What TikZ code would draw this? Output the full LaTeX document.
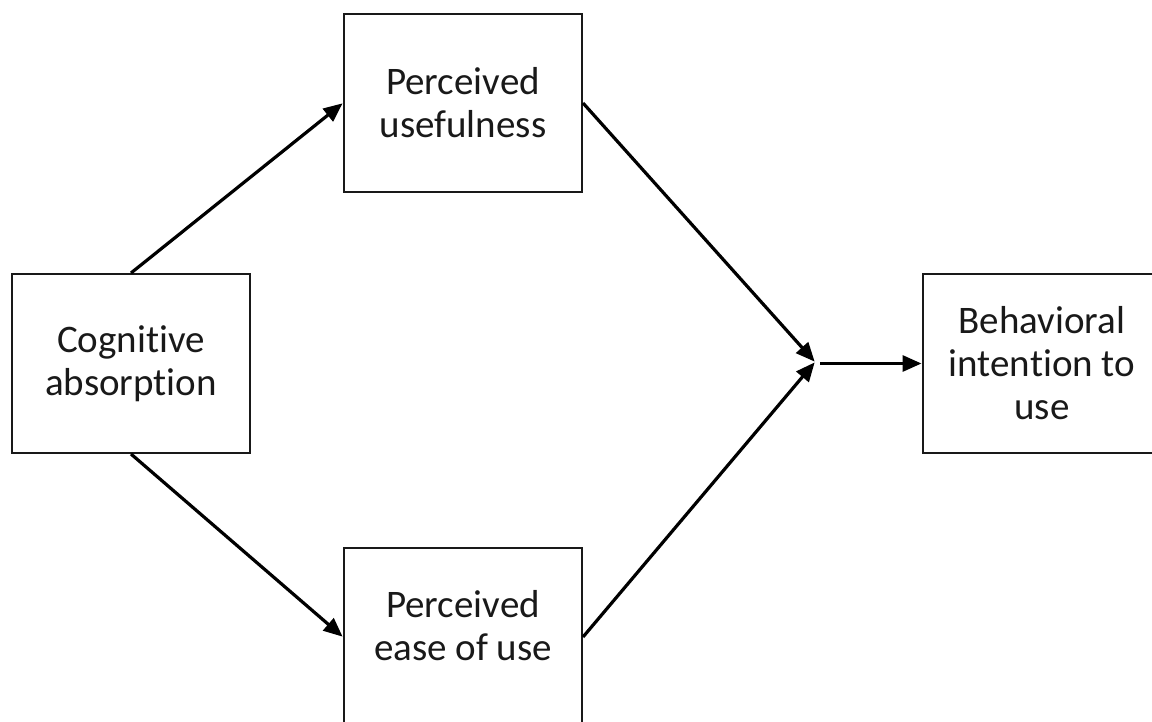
\documentclass[tikz,border=0pt]{standalone}
\usepackage{fontspec}
\setmainfont[Ligatures={NoCommon,NoRare}]{Carlito}
\usetikzlibrary{arrows.meta}
\tikzset{
  box/.style={draw=black!90, line width=2pt, fill=white, minimum width=238pt, minimum height=179pt, inner sep=0pt, align=center, font=\fontsize{39pt}{43pt}\selectfont, text=black!90},
  lbl/.style={align=center, inner sep=0pt, font=\fontsize{39pt}{43pt}\selectfont, text=black!90},
  conn/.style={draw=black, line width=3.2pt, -{Triangle[length=19pt,width=16pt]}, shorten >=0.5pt}
}
\begin{document}
\begin{tikzpicture}[x=1pt,y=-1pt]
\useasboundingbox (0,0) rectangle (1152,722);
\clip (0,0) rectangle (1152,722);
\fill[white] (0,0) rectangle (1152,722);
\node[box] (CA) at (131,363.5) {Cognitive\\absorption};
\node[box, minimum height=178pt] (PU) at (463,103) {Perceived\\usefulness};
\node[box, minimum height=178pt] (PEU) at (463,637) {};
\node[lbl] (PEUt) at (463,626) {Perceived\\ease of use};
\node[box] (BI) at (1042,363.5) {Behavioral\\intention to\\use};
\coordinate (M) at (815,362);
\coordinate (M2) at (820,363.5);
\draw[conn] (CA.north) -- (PU.west);
\draw[conn] (CA.south) -- (PEU.west);
\draw[conn] (PU.east) -- (M);
\draw[conn] (PEU.east) -- (M);
\draw[conn] (M2) -- (BI.west);
\end{tikzpicture}
\end{document}
